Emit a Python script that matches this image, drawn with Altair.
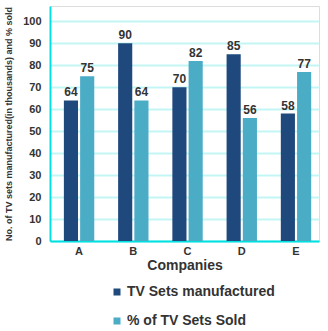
import altair as alt
import pandas as pd

companies = ["A", "B", "C", "D", "E"]
manufactured = [64, 90, 70, 85, 58]
sold = [75, 64, 82, 56, 77]
series = ["TV Sets manufactured", "% of TV Sets Sold"]
colors = ["#1F497D", "#4BACC6"]

rows = []
for c, m, s in zip(companies, manufactured, sold):
    rows.append({"company": c, "series": series[0], "value": m})
    rows.append({"company": c, "series": series[1], "value": s})
df = pd.DataFrame(rows)

FONT = "Liberation Sans"

x = alt.X("company:N", sort=companies,
          scale=alt.Scale(paddingInner=0.44, paddingOuter=0.2, align=0.64),
          axis=alt.Axis(title="Companies", labelAngle=0, ticks=False, grid=False,
                        labelFontSize=11, labelFontWeight="bold", labelColor="#333333",
                        labelPadding=4, titleFontSize=14, titleFontWeight="bold",
                        titleColor="#333333", titlePadding=2,
                        domainColor="#00E0E0", domainWidth=2))
xo = alt.XOffset("series:N", sort=series, scale=alt.Scale(paddingInner=0.13, paddingOuter=0))
y = alt.Y("value:Q", scale=alt.Scale(domain=[0, 107], nice=False),
          axis=alt.Axis(title="No. of TV sets manufactured(in thousands) and % sold",
                        values=list(range(0, 101, 10)), ticks=False, labelOverlap=False,
                        labelFontSize=11, labelFontWeight="bold", labelColor="#333333",
                        labelPadding=9, titleFontSize=9, titleFontWeight="bold",
                        titleColor="#333333", titlePadding=9,
                        gridColor="#C4F5F5", gridWidth=2,
                        domainColor="#00E0E0", domainWidth=2))

color = alt.Color("series:N", sort=series,
                  scale=alt.Scale(domain=series, range=colors),
                  legend=alt.Legend(title=None, orient="none", legendX=60, legendY=279,
                                    direction="vertical", symbolType="square",
                                    symbolSize=49, symbolStrokeWidth=0,
                                    labelFontSize=14, labelFontWeight="bold",
                                    labelColor="#333333", rowPadding=15, labelOffset=3,
                                    padding=0))

bars = alt.Chart(df).mark_bar().encode(x=x, xOffset=xo, y=y, color=color)
labels = alt.Chart(df).mark_text(baseline="bottom", dy=-1, fontSize=12,
                                  fontWeight="bold", color="#333333", font=FONT).encode(
    x=x, xOffset=xo, y=y, text="value:Q")

chart = (bars + labels).properties(
    width=269, height=235,
    padding={"left": 50, "top": 6, "right": 9, "bottom": 90},
    autosize=alt.AutoSizeParams(type="none"),
).configure_view(stroke=None).configure(font=FONT)

chart.save("out.html", embed_options={"renderer": "svg", "actions": False})
